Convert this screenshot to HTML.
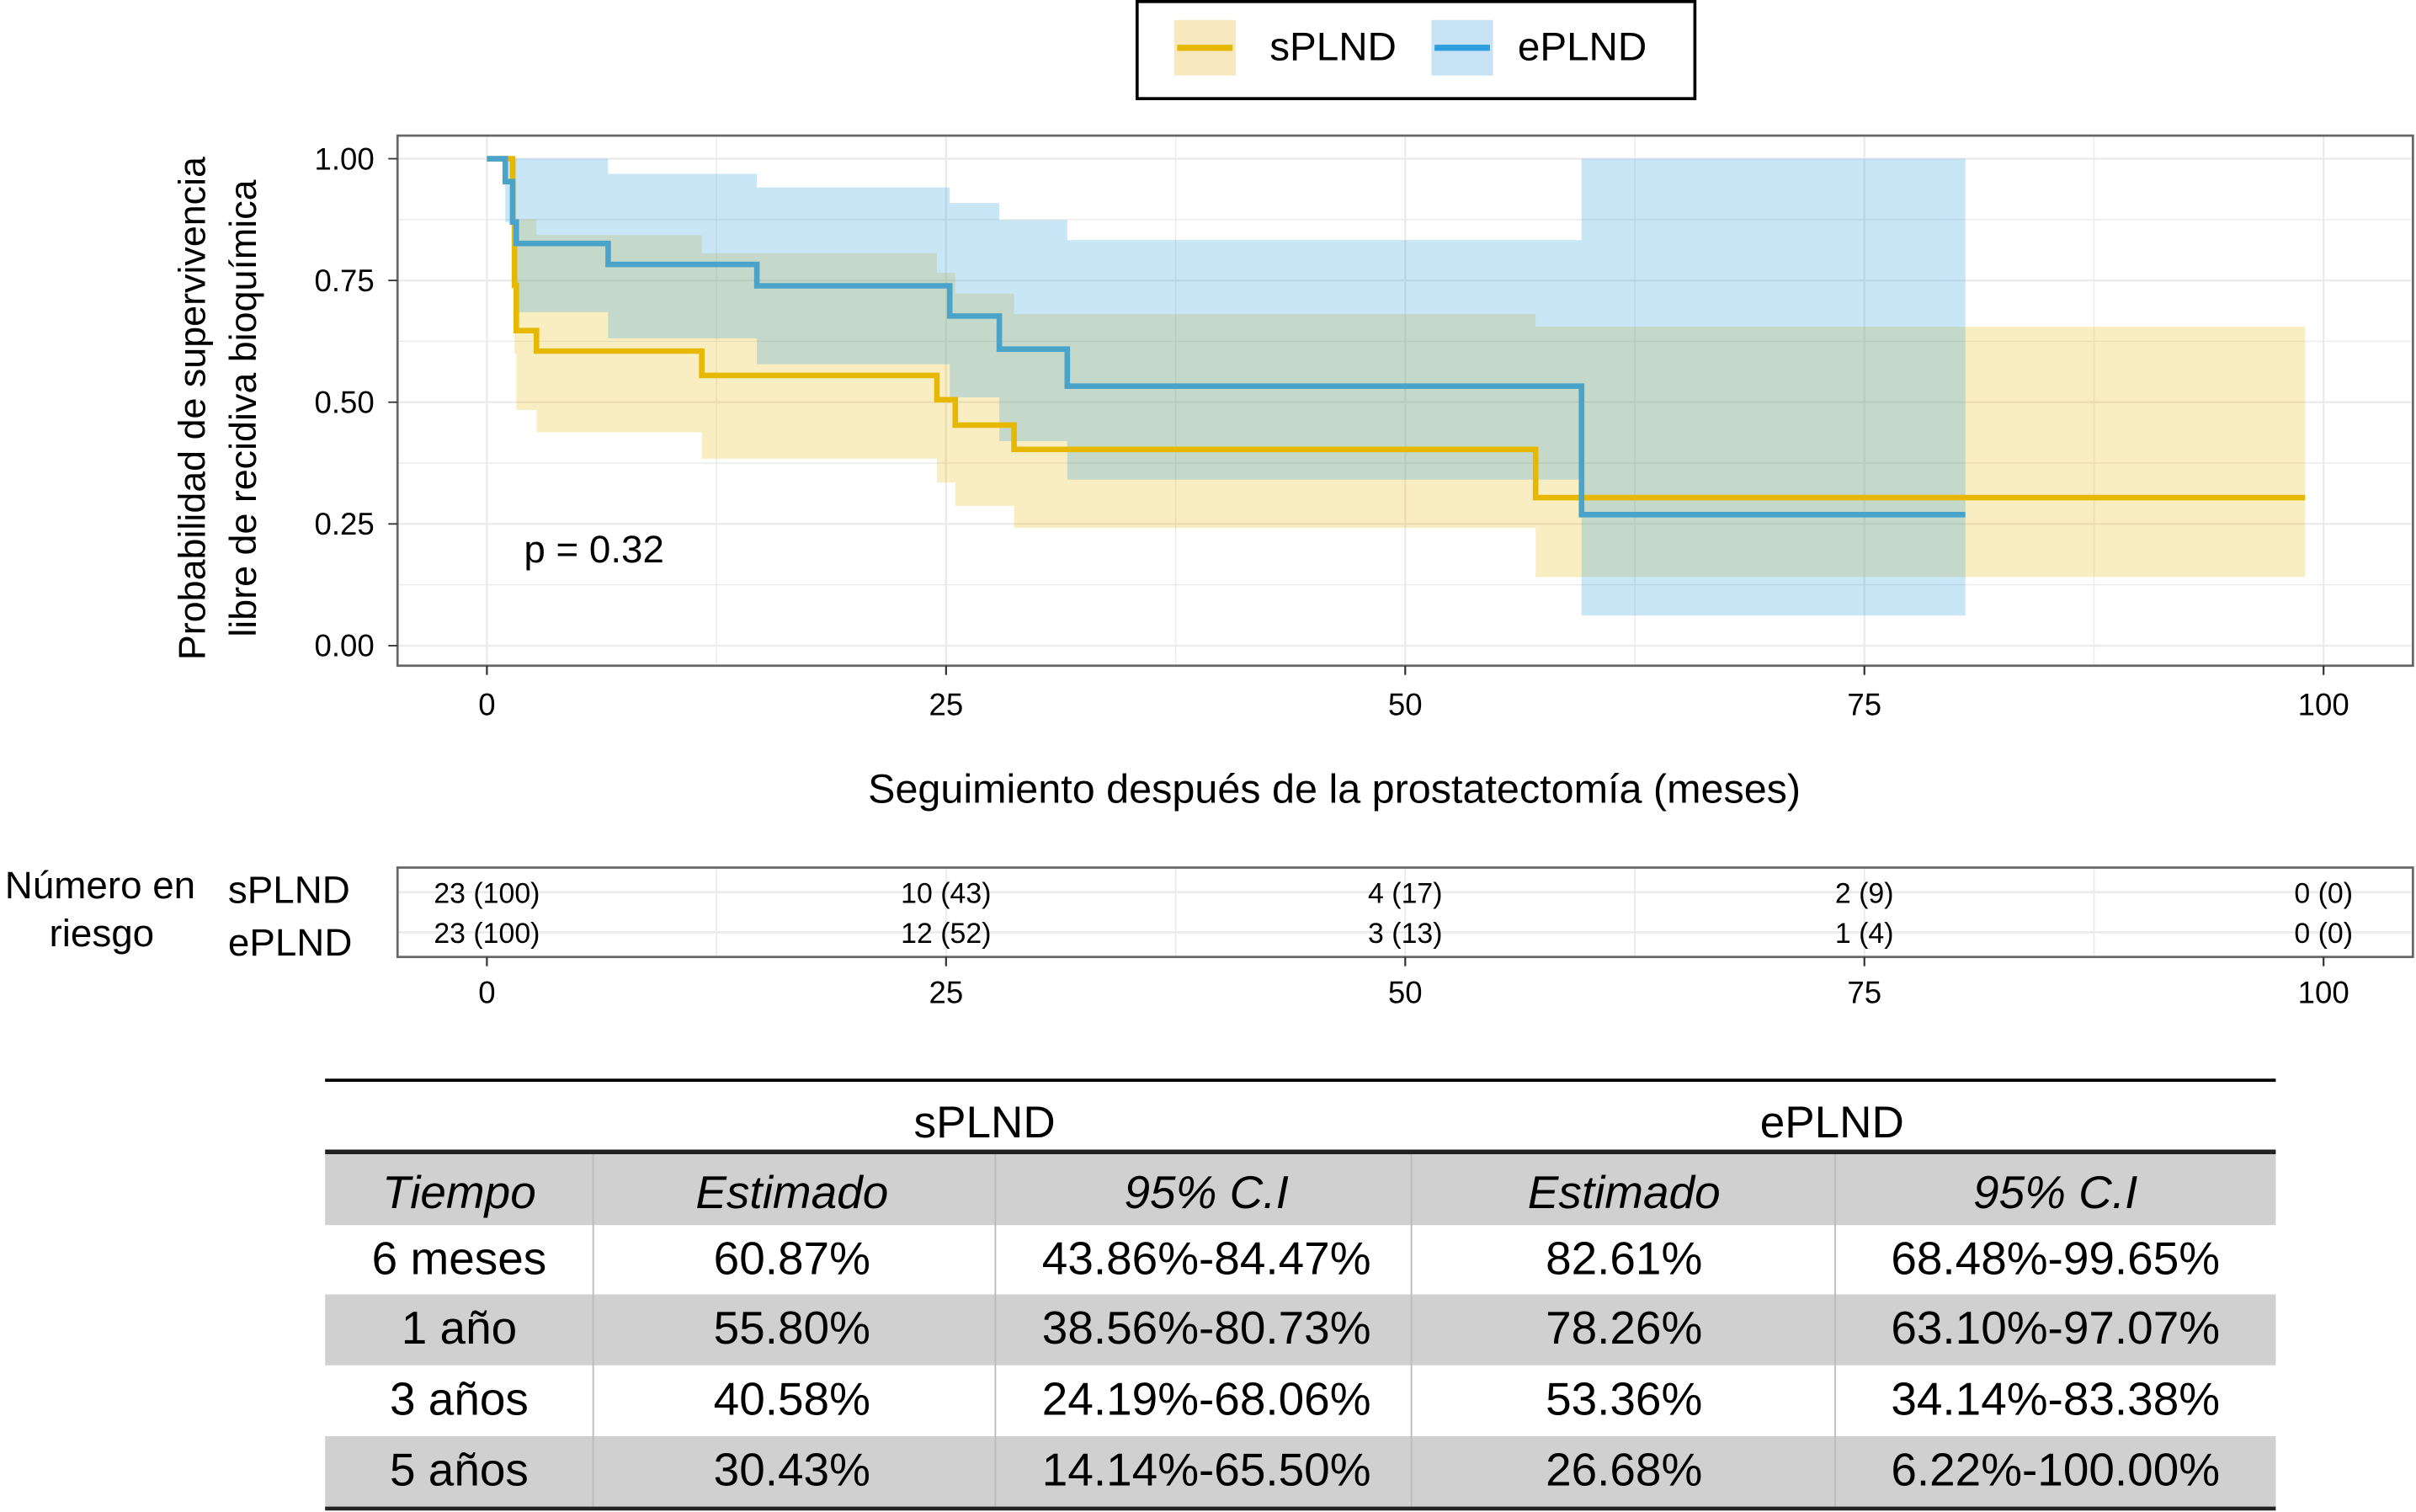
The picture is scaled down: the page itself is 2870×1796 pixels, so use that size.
<!DOCTYPE html>
<html><head><meta charset="utf-8"><style>
html,body{margin:0;padding:0;background:#fff;}
svg{display:block;}
text{font-family:"Liberation Sans",Arial,sans-serif;fill:#000;}
</style></head><body>
<svg id="chart" width="2870" height="1796" viewBox="0 0 1568 981.2" preserveAspectRatio="none" xmlns="http://www.w3.org/2000/svg">
<g id="legend">
  <rect x="738" y="1" width="362" height="63" fill="#fff" stroke="#000" stroke-width="2"/>
  <g>
    <rect x="762" y="13" width="40" height="36" fill="#f7e8bf"/>
    <line x1="764" y1="31" x2="800" y2="31" stroke="#E7B800" stroke-width="4"/>
    <text x="824" y="39" font-size="26">sPLND</text>
  </g>
  <g>
    <rect x="929" y="13" width="40" height="36" fill="#c8e2f5"/>
    <line x1="931" y1="31" x2="967" y2="31" stroke="#2E9FDF" stroke-width="4"/>
    <text x="985" y="39" font-size="26">ePLND</text>
  </g>
</g>
<g id="plot"></g>
<g id="risk"></g>
<g id="tbl"></g>
</svg>
<script>
// ---- data ----
const xTicks = [0, 25, 50, 75, 100];
const yTicks = [0, 0.25, 0.5, 0.75, 1.0];
const yTickLabels = ["0.00", "0.25", "0.50", "0.75", "1.00"];
const sTimes = [0, 1.4, 1.5, 1.6, 2.7, 11.7, 24.5, 25.5, 28.7, 57.1];
const sSurv  = [1, 0.87, 0.74, 0.647, 0.605, 0.555, 0.505, 0.453, 0.403, 0.304];
const sUpper = [1, 1, 1, 0.876, 0.843, 0.806, 0.766, 0.723, 0.681, 0.655];
const sLower = [1, 0.75, 0.6, 0.484, 0.438, 0.384, 0.335, 0.287, 0.242, 0.141];
const sEnd = 99;
const eTimes = [0, 1.0, 1.4, 1.6, 6.6, 14.7, 25.2, 27.9, 31.6, 59.6];
const eSurv  = [1, 0.953, 0.87, 0.826, 0.783, 0.739, 0.677, 0.609, 0.533, 0.269];
const eUpper = [1, 1, 1, 1, 0.969, 0.941, 0.909, 0.874, 0.833, 1.0];
const eLower = [1, 0.87, 0.76, 0.685, 0.631, 0.578, 0.51, 0.42, 0.341, 0.062];
const eEnd = 80.5;
const riskTimes = [0, 25, 50, 75, 100];
const riskS = ["23 (100)", "10 (43)", "4 (17)", "2 (9)", "0 (0)"];
const riskE = ["23 (100)", "12 (52)", "3 (13)", "1 (4)", "0 (0)"];
const tblHeader = ["Tiempo", "Estimado", "95% C.I", "Estimado", "95% C.I"];
const tblRows = [
 ["6 meses","60.87%","43.86%-84.47%","82.61%","68.48%-99.65%"],
 ["1 año","55.80%","38.56%-80.73%","78.26%","63.10%-97.07%"],
 ["3 años","40.58%","24.19%-68.06%","53.36%","34.14%-83.38%"],
 ["5 años","30.43%","14.14%-65.50%","26.68%","6.22%-100.00%"]];

const NS = "http://www.w3.org/2000/svg";
function mk(tag, attrs, parent, txt){ const e=document.createElementNS(NS,tag); for(const k in attrs) e.setAttribute(k,attrs[k]); if(txt!==undefined) e.textContent=txt; parent.appendChild(e); return e; }
const X = t => 316 + t * 11.92;
const Y = v => 419 - v * 316;
const plot = document.getElementById('plot');

mk('rect',{x:258,y:88,width:1308,height:344,fill:'#fff',stroke:'#666','stroke-width':1.5},plot);
for (let i=0;i<9;i++){ const t=i*12.5; if(X(t)>1566)break;
  const g=mk('line',{x1:X(t),x2:X(t),y1:89,y2:431,stroke:'#ebebeb','stroke-width':i%2?0.8:1.3},plot);
    }
for (let i=0;i<9;i++){ const v=i*0.125;
  const g=mk('line',{x1:259,x2:1565,y1:Y(v),y2:Y(v),stroke:'#ebebeb','stroke-width':i%2?0.8:1.3},plot);
    }

function stepPath(t,s,end){ let d=`M${X(t[0])},${Y(s[0])}`; for(let i=1;i<t.length;i++) d+=` H${X(t[i])} V${Y(s[i])}`; return d+` H${X(end)}`; }
function ribbon(t,u,l,end){ let d=`M${X(t[0])},${Y(u[0])}`; for(let i=1;i<t.length;i++) d+=` H${X(t[i])} V${Y(u[i])}`; d+=` H${X(end)} V${Y(l[l.length-1])}`;
  for(let i=t.length-1;i>0;i--) d+=` H${X(t[i])} V${Y(l[i-1])}`; return d+` H${X(t[0])} Z`; }

const rs=mk('path',{d:ribbon(sTimes,sUpper,sLower,sEnd),fill:'rgba(231,184,0,0.24)'},plot);
 
const re=mk('path',{d:ribbon(eTimes,eUpper,eLower,eEnd),fill:'rgba(46,159,223,0.26)'},plot);
 
const ls=mk('path',{d:stepPath(sTimes,sSurv,sEnd),fill:'none',stroke:'#E7B800','stroke-width':3.6},plot);
 
const le=mk('path',{d:stepPath(eTimes,eSurv,eEnd),fill:'none',stroke:'#4aa3c8','stroke-width':3.6},plot);
 

yTicks.forEach((v,i)=>{ const t=mk('text',{x:243,y:Y(v)+7,'font-size':20,'text-anchor':'end',fill:'#333'},plot,yTickLabels[i]);
   
  mk('line',{x1:252,x2:258,y1:Y(v),y2:Y(v),stroke:'#333','stroke-width':1},plot); });
xTicks.forEach(v=>{ mk('line',{x1:X(v),x2:X(v),y1:432,y2:438,stroke:'#333','stroke-width':1.2},plot);
  const t=mk('text',{x:X(v),y:464,'font-size':20,'text-anchor':'middle',fill:'#333'},plot,String(v));
    });
let yt=mk('text',{transform:'translate(133,265) rotate(-90)','font-size':24.5,'text-anchor':'middle'},plot,'Probabilidad de supervivencia');
 
yt=mk('text',{transform:'translate(166,265) rotate(-90)','font-size':24.5,'text-anchor':'middle'},plot,'libre de recidiva bioquímica');
 
const xt=mk('text',{x:866,y:521,'font-size':26.5,'text-anchor':'middle'},plot,'Seguimiento después de la prostatectomía (meses)');
 
const pv=mk('text',{x:340,y:365,'font-size':25},plot,'p = 0.32');
 

const risk=document.getElementById('risk');
mk('rect',{x:258,y:563,width:1308,height:58,fill:'#fff',stroke:'#666','stroke-width':1.5},risk);
for(let i=1;i<8;i++) mk('line',{x1:X(i*12.5),x2:X(i*12.5),y1:564,y2:620,stroke:'#ebebeb','stroke-width':1},risk);
[579,605].forEach(y=>mk('line',{x1:259,x2:1565,y1:y,y2:y,stroke:'#ebebeb','stroke-width':1.5},risk));
riskTimes.forEach((tm,i)=>{
  let a=mk('text',{x:X(tm),y:586,'font-size':18.5,'text-anchor':'middle'},risk,riskS[i]);
   
  a=mk('text',{x:X(tm),y:612,'font-size':18.5,'text-anchor':'middle'},risk,riskE[i]);
   
  mk('line',{x1:X(tm),x2:X(tm),y1:621,y2:627,stroke:'#333','stroke-width':1.2},risk);
  a=mk('text',{x:X(tm),y:651,'font-size':20,'text-anchor':'middle',fill:'#333'},risk,String(tm));
   
});
mk('text',{x:65,y:583,'font-size':25,'text-anchor':'middle'},risk,'Número en');
mk('text',{x:66,y:614,'font-size':25,'text-anchor':'middle'},risk,'riesgo');
mk('text',{x:148,y:586,'font-size':25},risk,'sPLND');
mk('text',{x:148,y:620,'font-size':25},risk,'ePLND');

const tb=document.getElementById('tbl');
const colX=[211,385,646,916,1191,1477], colC=[298,514,783,1054,1334];
const rowTop=[749,795,840,886,932,978];
mk('line',{x1:211,x2:1477,y1:701,y2:701,stroke:'#000','stroke-width':2},tb);
mk('text',{x:639,y:738,'font-size':29,'text-anchor':'middle'},tb,'sPLND');
mk('text',{x:1189,y:738,'font-size':29,'text-anchor':'middle'},tb,'ePLND');
[0,2,4].forEach(r=>mk('rect',{x:211,y:rowTop[r],width:1266,height:rowTop[r+1]-rowTop[r],fill:'#d0d0d0'},tb));
for(let c=1;c<5;c++) mk('line',{x1:colX[c],x2:colX[c],y1:749,y2:978,stroke:'#bbb','stroke-width':1},tb);
mk('line',{x1:211,x2:1477,y1:747.5,y2:747.5,stroke:'#222','stroke-width':3},tb);
mk('line',{x1:211,x2:1477,y1:979,y2:979,stroke:'#222','stroke-width':2.5},tb);
tblHeader.forEach((h,c)=>{ const t=mk('text',{x:colC[c],y:784,'font-size':30,'text-anchor':'middle','font-style':'italic'},tb,h);
    });
tblRows.forEach((row,r)=>row.forEach((v,c)=>{ const t=mk('text',{x:colC[c],y:rowTop[r+1]+32,'font-size':30,'text-anchor':'middle'},tb,v);
    }));
</script>
</body></html>
